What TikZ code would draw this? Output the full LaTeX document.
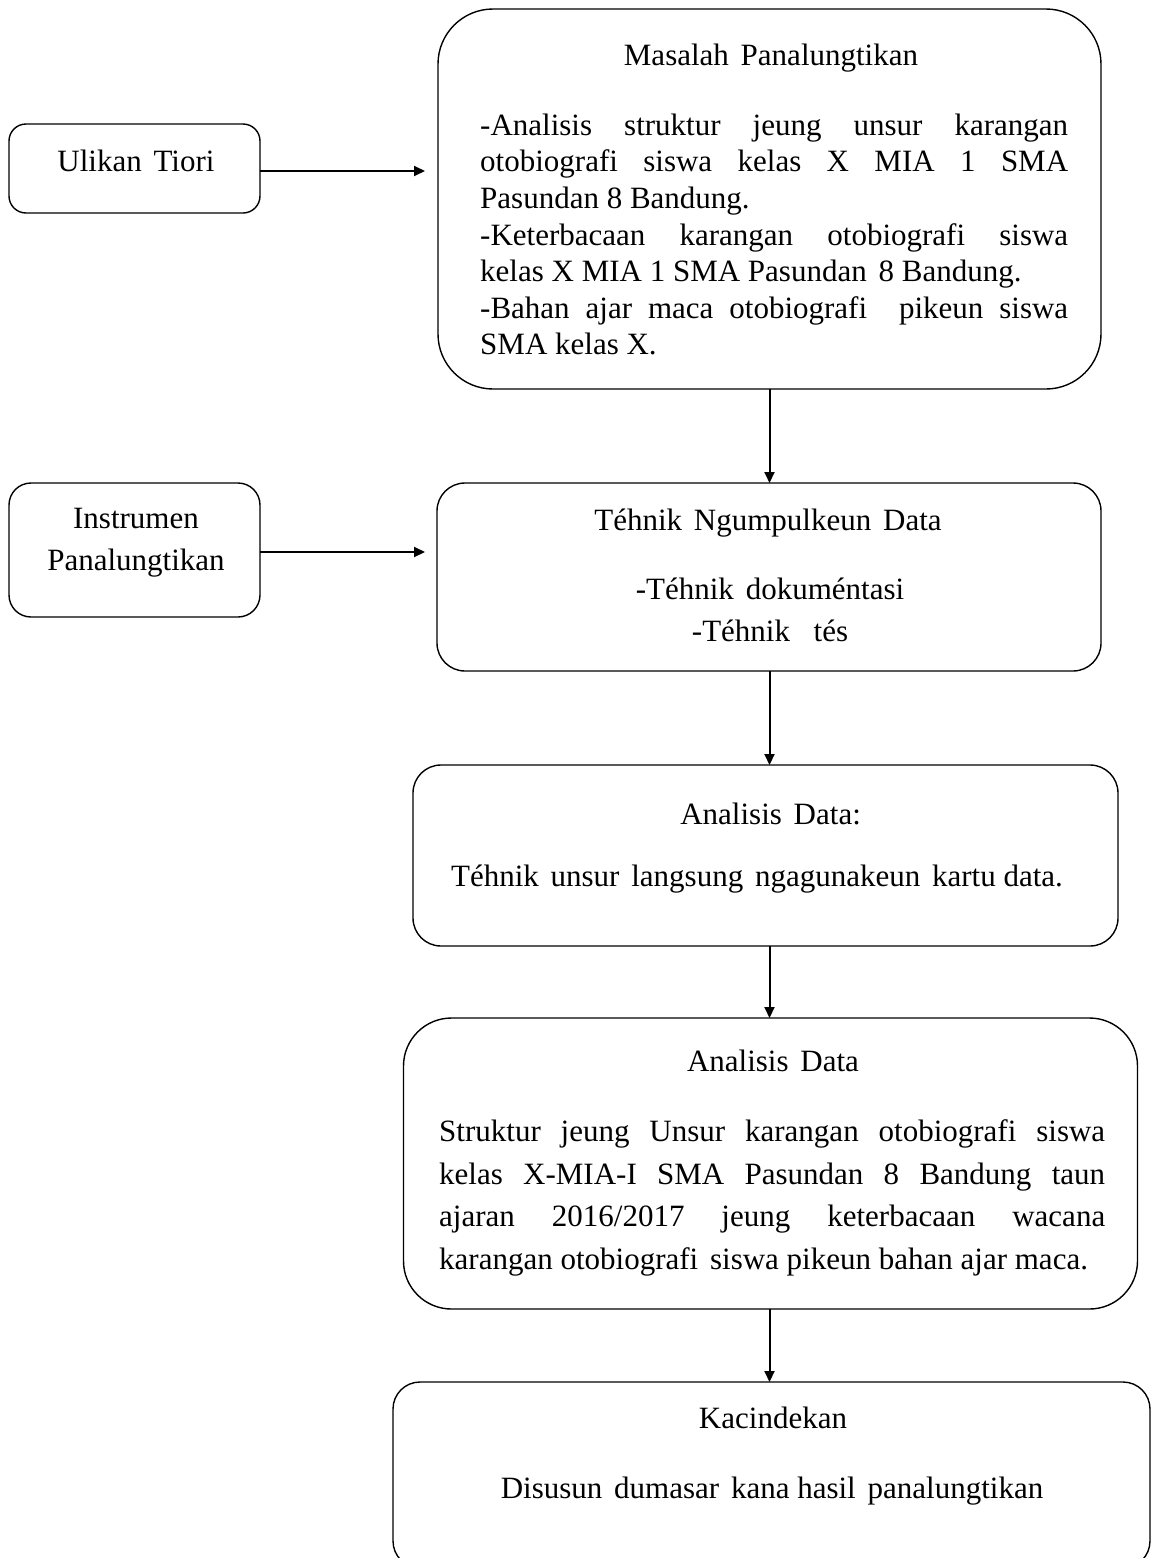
\documentclass[tikz,border=0pt]{standalone}
\usepackage{fontspec}
\setmainfont{Liberation Serif}
\usetikzlibrary{arrows.meta}
\hyphenpenalty=10000
\exhyphenpenalty=10000
\tolerance=10000
\newcommand{\dsp}{\hspace{0.38em}}
\begin{document}
\begin{tikzpicture}[x=1pt,y=-1pt,
  box/.style={draw, line width=1.4pt, rounded corners=#1, inner sep=0pt, outer sep=0pt},
  lbl/.style={anchor=base, inner sep=0pt, font=\fontsize{31}{36.6}\selectfont},
  ctr/.style={anchor=north, inner sep=0pt, align=center, font=\fontsize{31}{#1}\selectfont},
  jus/.style={anchor=north west, inner sep=0pt, align=justify},
  arr/.style={line width=2pt, -{Triangle[length=11pt,width=10pt]}}]
\useasboundingbox (0,0) rectangle (1153,1558);

% boxes
\node[box=17pt, minimum width=251pt, minimum height=89pt] (ulikan) at (134.5,168.5) {};
\node[box=55pt, minimum width=663pt, minimum height=380pt] (masalah) at (769.5,199) {};
\node[box=22pt, minimum width=251pt, minimum height=134pt] (instrumen) at (134.5,550) {};
\node[box=28pt, minimum width=664pt, minimum height=188pt] (tehnik) at (769,577) {};
\node[box=28pt, minimum width=705pt, minimum height=181pt] (analisisA) at (765.5,855.5) {};
\node[box=48pt, minimum width=734pt, minimum height=291pt] (analisisB) at (770.5,1163.5) {};
\node[box=27pt, minimum width=757pt, minimum height=186pt] (kacindekan) at (771.5,1475) {};

% texts
\node[lbl] (tUlikan) at (136,171) {Ulikan\dsp Tiori};
\node[lbl] (tMasalah) at (771,65) {Masalah\dsp Panalungtikan};
\node[jus, text width=588pt, font=\fontsize{31}{36.6}\selectfont] (pMasalah) at (480,111)
 {\rule{0pt}{24pt}-Analisis struktur jeung unsur karangan\linebreak
  otobiografi siswa kelas X MIA 1 SMA\linebreak
  Pasundan 8 Bandung.\\
  -Keterbacaan karangan otobiografi siswa\linebreak
  kelas X MIA 1 SMA Pasundan\dsp 8 Bandung.\\
  -Bahan ajar maca otobiografi\ \ pikeun siswa\linebreak
  SMA kelas X.};
\node[ctr=42] (tInstrumen) at (136,504) {\rule{0pt}{24pt}Instrumen\\Panalungtikan};
\node[lbl] (tTehnik) at (768,530) {Téhnik\dsp Ngumpulkeun\dsp Data};
\node[ctr=42.7] (pTehnik) at (770,575) {\rule{0pt}{24pt}-Téhnik\dsp dokuméntasi\\-Téhnik\dsp\dsp tés};
\node[lbl] (tAnalisisA) at (770.6,824) {Analisis\dsp Data:};
\node[lbl] (pAnalisisA) at (757,886.7) {Téhnik\dsp unsur\dsp langsung\dsp ngagunakeun\dsp kartu data.};
\node[lbl] (tAnalisisB) at (773,1071) {Analisis\dsp Data};
\node[jus, text width=666pt, font=\fontsize{31}{42.5}\selectfont] (pAnalisisB) at (439,1117.5)
 {\rule{0pt}{24pt}Struktur jeung Unsur karangan otobiografi siswa\linebreak
  kelas X-MIA-I SMA Pasundan 8 Bandung taun\linebreak
  ajaran 2016/2017 jeung keterbacaan wacana\linebreak
  karangan otobiografi\dsp siswa pikeun bahan ajar maca.};
\node[lbl] (tKacindekan) at (773,1428.8) {Kacindekan};
\node[lbl] (pKacindekan) at (772,1498) {Disusun\dsp dumasar\dsp kana hasil\dsp panalungtikan};

% connectors
\coordinate (endU) at (425,171);
\coordinate (endI) at (425,552);
\draw[arr] (ulikan.east |- endU) -- (endU);
\draw[arr] (instrumen.east |- endI) -- (endI);
\draw[arr] (masalah.south) -- (masalah.south |- tehnik.north);
\draw[arr] (masalah.south |- tehnik.south) -- (masalah.south |- analisisA.north);
\draw[arr] (masalah.south |- analisisA.south) -- (masalah.south |- analisisB.north);
\draw[arr] (masalah.south |- analisisB.south) -- (masalah.south |- kacindekan.north);
\end{tikzpicture}
\end{document}
